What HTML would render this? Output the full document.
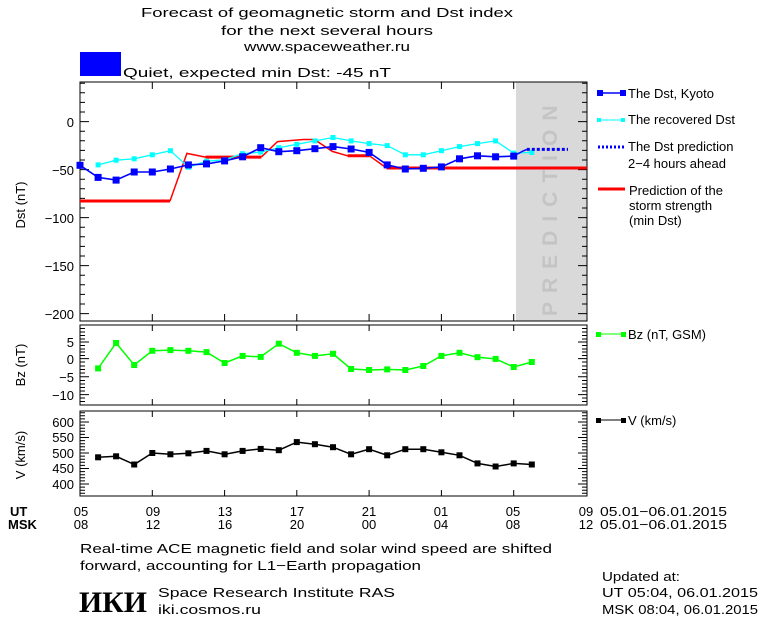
<!DOCTYPE html>
<html><head><meta charset="utf-8"><style>
body{margin:0;background:#fff;}
svg{display:block;}
text{font-family:"Liberation Sans",sans-serif;font-size:13px;fill:#000;}
</style></head><body>
<svg width="760" height="620" viewBox="0 0 760 620" xmlns="http://www.w3.org/2000/svg">
<defs>
<marker id="mb" markerUnits="userSpaceOnUse" markerWidth="8" markerHeight="8" refX="4" refY="4"><rect x="0.5" y="0.5" width="7" height="7" fill="#0000ff"/></marker>
<marker id="mc" markerUnits="userSpaceOnUse" markerWidth="6" markerHeight="6" refX="3" refY="3"><rect x="0.5" y="0.5" width="5" height="5" fill="#00ffff"/></marker>
<marker id="mg" markerUnits="userSpaceOnUse" markerWidth="7" markerHeight="7" refX="3.5" refY="3.5"><rect x="0.5" y="0.5" width="6" height="6" fill="#00ff00"/></marker>
<marker id="mk" markerUnits="userSpaceOnUse" markerWidth="7" markerHeight="7" refX="3.5" refY="3.5"><rect x="0.5" y="0.5" width="6" height="6" fill="#000"/></marker>
</defs>
<!-- title -->
<text x="327" y="17" text-anchor="middle" textLength="372" lengthAdjust="spacingAndGlyphs">Forecast of geomagnetic storm and Dst index</text>
<text x="327" y="35" text-anchor="middle" textLength="212" lengthAdjust="spacingAndGlyphs">for the next several hours</text>
<text x="327" y="51" text-anchor="middle" textLength="166" lengthAdjust="spacingAndGlyphs">www.spaceweather.ru</text>
<rect x="80" y="52" width="41" height="24" fill="#0000ff"/>
<text x="123" y="77" textLength="268" lengthAdjust="spacingAndGlyphs">Quiet, expected min Dst: -45 nT</text>

<!-- Dst panel -->
<rect x="516" y="82" width="71" height="239" fill="#d9d9d9"/>
<text transform="translate(557,316) rotate(-90)" style="font-size:21px;fill:#c4c4c4;font-weight:bold;letter-spacing:9px">PREDICTION</text>
<rect x="80" y="82" width="507" height="239" fill="none" stroke="#000" stroke-width="1"/>
<g stroke="#000" stroke-width="1">
<path d="M80 121.6h9M80 169.6h9M80 217.6h9M80 265.6h9M80 313.6h9M587 121.6h-9M587 169.6h-9M587 217.6h-9M587 265.6h-9M587 313.6h-9"/>
<path d="M80 83.2h5M80 92.8h5M80 102.4h5M80 112h5M80 131.2h5M80 140.8h5M80 150.4h5M80 160h5M80 179.2h5M80 188.8h5M80 198.4h5M80 208h5M80 227.2h5M80 236.8h5M80 246.4h5M80 256h5M80 275.2h5M80 284.8h5M80 294.4h5M80 304h5
M587 83.2h-5M587 92.8h-5M587 102.4h-5M587 112h-5M587 131.2h-5M587 140.8h-5M587 150.4h-5M587 160h-5M587 179.2h-5M587 188.8h-5M587 198.4h-5M587 208h-5M587 227.2h-5M587 236.8h-5M587 246.4h-5M587 256h-5M587 275.2h-5M587 284.8h-5M587 294.4h-5M587 304h-5"/>
<path d="M152.3 82v7M224.6 82v7M296.8 82v7M369.1 82v7M441.4 82v7M513.7 82v7M152.3 321v-7M224.6 321v-7M296.8 321v-7M369.1 321v-7M441.4 321v-7M513.7 321v-7"/>
</g>
<g text-anchor="end">
<text x="74" y="127">0</text><text x="74" y="175">−50</text><text x="74" y="223">−100</text><text x="74" y="271">−150</text><text x="74" y="319">−200</text>
</g>
<text transform="translate(25,205) rotate(-90)" text-anchor="middle">Dst (nT)</text>

<!-- red -->
<polyline fill="none" stroke="#ff0000" stroke-width="3" points="80,201 170,201"/>
<polyline fill="none" stroke="#ff0000" stroke-width="1.5" points="170,201 186.9,153.4 205.5,157.1"/>
<polyline fill="none" stroke="#ff0000" stroke-width="3" points="205.5,157.1 261.3,157.1"/>
<polyline fill="none" stroke="#ff0000" stroke-width="1.5" points="261.3,157.1 277.5,141.6 303.6,139.5 314.4,139.5 332.3,151.4 347.6,155.8"/>
<polyline fill="none" stroke="#ff0000" stroke-width="3" points="347.6,155.8 369.5,155.8"/>
<polyline fill="none" stroke="#ff0000" stroke-width="1.5" points="369.5,155.8 386.5,168"/>
<polyline fill="none" stroke="#ff0000" stroke-width="3" points="386.5,168 587,168"/>
<!-- cyan -->
<polyline fill="none" stroke="#00ffff" stroke-width="1.3" marker-start="url(#mc)" marker-mid="url(#mc)" marker-end="url(#mc)" points="98.1,164.9 116.1,160.2 134.2,158.8 152.3,154.8 170.4,150.7 188.4,167.3 206.5,161.2 224.6,159.8 242.6,153.7 260.7,152.1 278.8,147.7 296.8,144.3 314.9,140.9 333,137.5 351.1,140.9 369.1,143.6 387.2,145.6 405.3,154.8 423.3,154.8 441.4,150.7 459.5,146.6 477.5,143.6 495.6,140.9 513.7,153.1 531.8,152.4"/>
<!-- blue -->
<polyline fill="none" stroke="#0000ff" stroke-width="1.6" marker-start="url(#mb)" marker-mid="url(#mb)" marker-end="url(#mb)" points="80,165.3 98.1,177.4 116.1,180.1 134.2,172 152.3,172 170.4,169 188.4,164.9 206.5,163.9 224.6,160.9 242.6,156.8 260.7,147.7 278.8,151.7 296.8,150.7 314.9,148.7 333,146.6 351.1,149 369.1,152.4 387.2,164.9 405.3,169 423.3,168.3 441.4,166.9 459.5,158.8 477.5,155.8 495.6,156.8 513.7,156.1"/>
<polyline fill="none" stroke="#0000ff" stroke-width="1.5" points="513.7,156.1 523,151 526.8,149.4"/>
<line x1="526.8" y1="149.4" x2="568" y2="149.4" stroke="#0000ff" stroke-width="3" stroke-dasharray="3,2"/>

<!-- Bz panel -->
<rect x="80" y="325" width="507" height="80" fill="none" stroke="#000"/>
<g stroke="#000">
<path d="M80 342h9M80 358.6h9M80 376.8h9M80 394.6h9M587 342h-9M587 358.6h-9M587 376.8h-9M587 394.6h-9"/>
<path d="M80 328.5h5M80 332h5M80 335.5h5M80 339h5M80 345.5h5M80 349h5M80 352h5M80 355.5h5M80 362h5M80 366h5M80 369.5h5M80 373h5M80 380.5h5M80 384h5M80 387.5h5M80 391h5M80 398h5M80 401.5h5
M587 328.5h-5M587 332h-5M587 335.5h-5M587 339h-5M587 345.5h-5M587 349h-5M587 352h-5M587 355.5h-5M587 362h-5M587 366h-5M587 369.5h-5M587 373h-5M587 380.5h-5M587 384h-5M587 387.5h-5M587 391h-5M587 398h-5M587 401.5h-5"/>
<path d="M152.3 325v6M224.6 325v6M296.8 325v6M369.1 325v6M441.4 325v6M513.7 325v6M152.3 405v-6M224.6 405v-6M296.8 405v-6M369.1 405v-6M441.4 405v-6M513.7 405v-6"/>
</g>
<g text-anchor="end">
<text x="74" y="347">5</text><text x="74" y="364">0</text><text x="74" y="382">−5</text><text x="74" y="400">−10</text>
</g>
<text transform="translate(25,365) rotate(-90)" text-anchor="middle">Bz (nT)</text>
<polyline fill="none" stroke="#00ff00" stroke-width="1.5" marker-start="url(#mg)" marker-mid="url(#mg)" marker-end="url(#mg)" points="98.1,368.4 116.1,343 134.2,365 152.3,350.8 170.4,350.1 188.4,350.8 206.5,352.1 224.6,363 242.6,355.9 260.7,356.9 278.8,343.7 296.8,352.8 314.9,355.9 333,353.8 351.1,369 369.1,370 387.2,369.4 405.3,370 423.3,366 441.4,355.9 459.5,352.8 477.5,357.2 495.6,358.9 513.7,367 531.8,362"/>

<!-- V panel -->
<rect x="80" y="411" width="507" height="85" fill="none" stroke="#000"/>
<g stroke="#000">
<path d="M80 422h9M80 437.5h9M80 453h9M80 468.5h9M80 484h9M587 422h-9M587 437.5h-9M587 453h-9M587 468.5h-9M587 484h-9"/>
<path d="M80 412.7h5M80 415.8h5M80 418.9h5M80 425.1h5M80 428.2h5M80 431.3h5M80 434.4h5M80 440.6h5M80 443.7h5M80 446.8h5M80 449.9h5M80 456.1h5M80 459.2h5M80 462.3h5M80 465.4h5M80 471.6h5M80 474.7h5M80 477.8h5M80 480.9h5M80 487.1h5M80 490.2h5M80 493.3h5
M587 412.7h-5M587 415.8h-5M587 418.9h-5M587 425.1h-5M587 428.2h-5M587 431.3h-5M587 434.4h-5M587 440.6h-5M587 443.7h-5M587 446.8h-5M587 449.9h-5M587 456.1h-5M587 459.2h-5M587 462.3h-5M587 465.4h-5M587 471.6h-5M587 474.7h-5M587 477.8h-5M587 480.9h-5M587 487.1h-5M587 490.2h-5M587 493.3h-5"/>
<path d="M152.3 411v6M224.6 411v6M296.8 411v6M369.1 411v6M441.4 411v6M513.7 411v6M152.3 496v-6M224.6 496v-6M296.8 496v-6M369.1 496v-6M441.4 496v-6M513.7 496v-6"/>
</g>
<g text-anchor="end">
<text x="74" y="427">600</text><text x="74" y="442">550</text><text x="74" y="458">500</text><text x="74" y="473">450</text><text x="74" y="489">400</text>
</g>
<text transform="translate(25,455) rotate(-90)" text-anchor="middle">V (km/s)</text>
<polyline fill="none" stroke="#000" stroke-width="1.5" marker-start="url(#mk)" marker-mid="url(#mk)" marker-end="url(#mk)" points="98.1,457.3 116.1,456.3 134.2,464.5 152.3,453 170.4,454.3 188.4,453.3 206.5,450.9 224.6,454.3 242.6,450.9 260.7,448.9 278.8,450.2 296.8,442.1 314.9,444.2 333,447.2 351.1,454.3 369.1,449.2 387.2,455.3 405.3,449.2 423.3,449.2 441.4,452.3 459.5,455.3 477.5,463.4 495.6,466.5 513.7,463.4 531.8,464.5"/>

<!-- x labels -->
<text x="10" y="516" style="font-weight:bold">UT</text>
<text x="8" y="529" style="font-weight:bold">MSK</text>
<g text-anchor="middle">
<text x="81" y="516">05</text><text x="153" y="516">09</text><text x="225" y="516">13</text><text x="297" y="516">17</text><text x="369" y="516">21</text><text x="441" y="516">01</text><text x="513" y="516">05</text><text x="586" y="516">09</text>
<text x="81" y="529">08</text><text x="153" y="529">12</text><text x="225" y="529">16</text><text x="297" y="529">20</text><text x="369" y="529">00</text><text x="441" y="529">04</text><text x="513" y="529">08</text><text x="586" y="529">12</text>
</g>
<text x="600" y="516" textLength="127" lengthAdjust="spacingAndGlyphs">05.01−06.01.2015</text>
<text x="600" y="529" textLength="127" lengthAdjust="spacingAndGlyphs">05.01−06.01.2015</text>
<text x="80" y="553" textLength="472" lengthAdjust="spacingAndGlyphs">Real-time ACE magnetic field and solar wind speed are shifted</text>
<text x="80" y="570" textLength="341" lengthAdjust="spacingAndGlyphs">forward, accounting for L1−Earth propagation</text>
<text x="158" y="597" textLength="237" lengthAdjust="spacingAndGlyphs">Space Research Institute RAS</text>
<text x="158" y="614" textLength="103" lengthAdjust="spacingAndGlyphs">iki.cosmos.ru</text>
<text x="602" y="581" textLength="78" lengthAdjust="spacingAndGlyphs">Updated at:</text>
<text x="602" y="597" textLength="156" lengthAdjust="spacingAndGlyphs">UT   05:04, 06.01.2015</text>
<text x="602" y="614" textLength="156" lengthAdjust="spacingAndGlyphs">MSK 08:04, 06.01.2015</text>
<text x="79" y="612" textLength="68" lengthAdjust="spacingAndGlyphs" style="font-family:'Liberation Serif',serif;font-weight:bold;font-size:30px">ИКИ</text>

<!-- legend -->
<line x1="598" y1="93" x2="625" y2="93" stroke="#0000ff" stroke-width="1.5"/>
<rect x="597" y="90" width="6" height="6" fill="#0000ff"/><rect x="620" y="90" width="6" height="6" fill="#0000ff"/>
<text x="628" y="98">The Dst, Kyoto</text>
<line x1="598" y1="120" x2="625" y2="120" stroke="#00ffff" stroke-width="1"/>
<rect x="597" y="118" width="4" height="4" fill="#00ffff"/><rect x="621" y="118" width="4" height="4" fill="#00ffff"/>
<text x="628" y="124">The recovered Dst</text>
<line x1="598" y1="147" x2="625" y2="147" stroke="#0000ff" stroke-width="3" stroke-dasharray="2,2"/>
<text x="628" y="151">The Dst prediction</text>
<text x="628" y="168">2−4 hours ahead</text>
<line x1="598" y1="189" x2="625" y2="189" stroke="#ff0000" stroke-width="3"/>
<text x="629" y="195">Prediction of the</text>
<text x="629" y="210">storm strength</text>
<text x="629" y="225">(min Dst)</text>
<line x1="598" y1="334" x2="625" y2="334" stroke="#00ff00" stroke-width="1"/>
<rect x="596" y="332" width="5" height="5" fill="#00ff00"/><rect x="621" y="332" width="5" height="5" fill="#00ff00"/>
<text x="628" y="339">Bz (nT, GSM)</text>
<line x1="598" y1="420" x2="625" y2="420" stroke="#000" stroke-width="1"/>
<rect x="596" y="418" width="5" height="5" fill="#000"/><rect x="621" y="418" width="5" height="5" fill="#000"/>
<text x="628" y="425">V (km/s)</text>
</svg>
</body></html>
